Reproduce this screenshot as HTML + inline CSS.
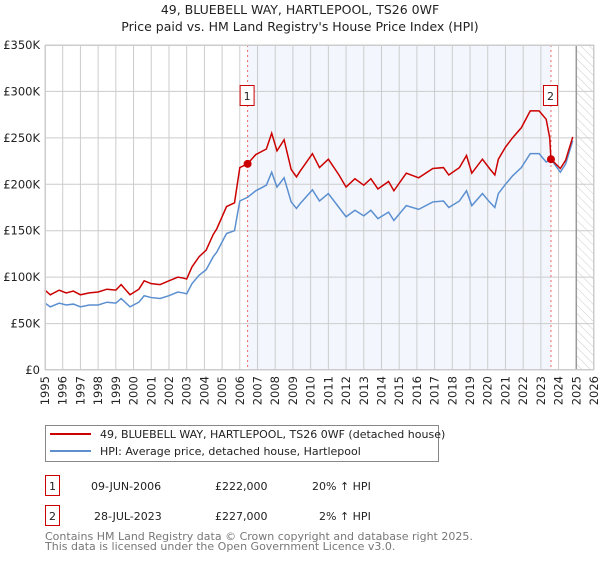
<!DOCTYPE html>
<html><head><meta charset="utf-8"><style>
body{margin:0;background:#fff;font-family:"DejaVu Sans","Liberation Sans",sans-serif;}
svg text{font-family:"DejaVu Sans","Liberation Sans",sans-serif;}
</style></head><body>
<svg width="600" height="560" viewBox="0 0 600 560" xmlns="http://www.w3.org/2000/svg" id="chart">
<defs><pattern id="hatch" width="6" height="6" patternUnits="userSpaceOnUse" patternTransform="rotate(-45)"><line x1="0" y1="0" x2="0" y2="6" stroke="#ccc" stroke-width="1"/></pattern></defs>
<text x="300" y="14" text-anchor="middle" font-size="12.5" fill="#222">49, BLUEBELL WAY, HARTLEPOOL, TS26 0WF</text>
<text x="300" y="31" text-anchor="middle" font-size="12.5" fill="#222">Price paid vs. HM Land Registry's House Price Index (HPI)</text>
<g id="plot"></g>
<g>
<rect x="45.5" y="425.5" width="393" height="36" fill="#fff" stroke="#888"/>
<line x1="50" y1="434" x2="91" y2="434" stroke="#cc0000" stroke-width="2"/>
<text x="100" y="438" font-size="11" fill="#222">49, BLUEBELL WAY, HARTLEPOOL, TS26 0WF (detached house)</text>
<line x1="50" y1="451" x2="91" y2="451" stroke="#5b8fd0" stroke-width="2"/>
<text x="100" y="455" font-size="11" fill="#222">HPI: Average price, detached house, Hartlepool</text>
</g>
<g font-size="11" fill="#222">
<rect x="45.5" y="475.5" width="14" height="20" fill="#fff" stroke="#cc0000"/>
<text x="52.5" y="490" text-anchor="middle">1</text>
<text x="91" y="490">09-JUN-2006</text><text x="215" y="490">£222,000</text><text x="312" y="490">20% ↑ HPI</text>
<rect x="45.5" y="505.5" width="14" height="20" fill="#fff" stroke="#cc0000"/>
<text x="52.5" y="520" text-anchor="middle">2</text>
<text x="94" y="520">28-JUL-2023</text><text x="215" y="520">£227,000</text><text x="319" y="520">2% ↑ HPI</text>
</g>
<text x="45" y="540" font-size="11" fill="#777">Contains HM Land Registry data © Crown copyright and database right 2025.</text>
<text x="45" y="550" font-size="11" fill="#777">This data is licensed under the Open Government Licence v3.0.</text>
</svg>
<script>
const hpiYears=[1995,1995.3,1995.8,1996.2,1996.6,1997,1997.5,1998,1998.5,1999,1999.3,1999.8,2000.3,2000.6,2001,2001.5,2002,2002.5,2002.8,2003,2003.3,2003.7,2004.1,2004.5,2004.7,2005.25,2005.7,2006,2006.44,2006.9,2007.5,2007.8,2008.1,2008.5,2008.9,2009.2,2009.4,2010.1,2010.5,2011,2011.6,2012,2012.5,2013,2013.4,2013.8,2014.4,2014.7,2015.4,2016.1,2016.9,2017.5,2017.8,2018.4,2018.8,2019.1,2019.7,2020.1,2020.4,2020.6,2021,2021.4,2021.9,2022.4,2022.9,2023.3,2023.57,2024.1,2024.4,2024.8];
const hpiValues=[72,68,72,70,71,68,70,70,73,72,77,68,73,80,78,77,80,84,83,82,93,102,108,122,127,147,150,182,186,193,199,213,197,207,181,174,179,194,182,190,175,165,172,166,172,163,170,161,177,173,181,182,175,182,193,177,190,181,175,190,200,209,218,233,233,224,227,213,222,247];
const priceYears=[1995,1995.3,1995.8,1996.2,1996.6,1997,1997.5,1998,1998.5,1999,1999.3,1999.8,2000.3,2000.6,2001,2001.5,2002,2002.5,2002.8,2003,2003.3,2003.7,2004.1,2004.5,2004.7,2005.25,2005.7,2006,2006.44,2006.9,2007.5,2007.8,2008.1,2008.5,2008.9,2009.2,2009.4,2010.1,2010.5,2011,2011.6,2012,2012.5,2013,2013.4,2013.8,2014.4,2014.7,2015.4,2016.1,2016.9,2017.5,2017.8,2018.4,2018.8,2019.1,2019.7,2020.1,2020.4,2020.6,2021,2021.4,2021.9,2022.4,2022.9,2023.3,2023.5,2023.57,2024.1,2024.4,2024.8];
const priceValues=[86,81,86,83,85,81,83,84,87,86,92,81,87,96,93,92,96,100,99,98,111,122,129,146,152,176,180,218,222,232,238,255,236,248,216,208,214,233,218,227,210,197,206,199,206,195,203,193,212,207,217,218,210,218,231,212,227,217,210,227,240,250,261,279,279,270,250,227,217,226,251];
const saleYears=[2006.44,2023.57];
const saleValues=[222,227];
const yTicks=[0,50,100,150,200,250,300,350];
const yTickLabels=["£0","£50K","£100K","£150K","£200K","£250K","£300K","£350K"];
const xTicks=[1995,1996,1997,1998,1999,2000,2001,2002,2003,2004,2005,2006,2007,2008,2009,2010,2011,2012,2013,2014,2015,2016,2017,2018,2019,2020,2021,2022,2023,2024,2025,2026];

const X0=45,X1=594,Y0=370,Y1=45;
const xs=y=>X0+(y-1995)/(2026-1995)*(X1-X0);
const ys=v=>Y0-v/350*(Y0-Y1);
const NS="http://www.w3.org/2000/svg";
const g=document.getElementById('plot');
function mk(t,a){const e=document.createElementNS(NS,t);for(const k in a)e.setAttribute(k,a[k]);g.appendChild(e);return e;}
let e;
e=mk('rect',{x:X0,y:Y1,width:X1-X0,height:Y0-Y1,fill:'#fff'});


e=mk('rect',{x:xs(saleYears[0]),y:Y1,width:xs(saleYears[1])-xs(saleYears[0]),height:Y0-Y1,fill:'#eef3fc',opacity:0.7});


e=mk('rect',{x:xs(2025),y:Y1,width:X1-xs(2025),height:Y0-Y1,fill:'url(#hatch)'});


xTicks.forEach((t,i)=>{
 e=mk('line',{x1:xs(t),x2:xs(t),y1:Y1,y2:Y0,stroke:'#ccc','stroke-width':1});
 
 
 const tx=xs(t)+4;
 e=mk('text',{x:tx,y:376,'text-anchor':'end','font-size':11.5,fill:'#222',transform:'rotate(-90 '+tx+' 376)'});
 e.textContent=t;
 
 
});
yTicks.forEach((t,i)=>{
 e=mk('line',{x1:X0,x2:X1,y1:ys(t),y2:ys(t),stroke:'#ccc','stroke-width':1});
 
 
 e=mk('text',{x:40,y:ys(t)+4,'text-anchor':'end','font-size':11.5,fill:'#222'});
 e.textContent=yTickLabels[i];
 
 
});
e=mk('line',{x1:xs(2025),x2:xs(2025),y1:Y1,y2:Y0,stroke:'#999','stroke-width':1.5});


saleYears.forEach((s,i)=>{
 e=mk('line',{x1:xs(s),x2:xs(s),y1:Y1,y2:Y0,stroke:'#e66','stroke-width':1,'stroke-dasharray':'2,3'});
 
 
});
e=mk('polyline',{points:hpiYears.map((y,i)=>xs(y)+','+ys(hpiValues[i])).join(' '),fill:'none',stroke:'#5b8fd0','stroke-width':1.5});


e=mk('polyline',{points:priceYears.map((y,i)=>xs(y)+','+ys(priceValues[i])).join(' '),fill:'none',stroke:'#cc0000','stroke-width':1.5});


saleYears.forEach((s,i)=>{
 e=mk('circle',{cx:xs(s),cy:ys(saleValues[i]),r:4,fill:'#cc0000'});
 
 
 e=mk('rect',{x:xs(s)-7.5,y:85.5,width:14,height:20,fill:'#fff',stroke:'#cc0000'});
 
 
 e=mk('text',{x:xs(s)-0.5,y:100,'text-anchor':'middle','font-size':11,fill:'#222'});
 e.textContent=String(i+1);
 
 
});
e=mk('rect',{x:X0+0.5,y:Y1+0.5,width:X1-X0-1,height:Y0-Y1-1,fill:'none',stroke:'#ccc'});


</script>
</body></html>
